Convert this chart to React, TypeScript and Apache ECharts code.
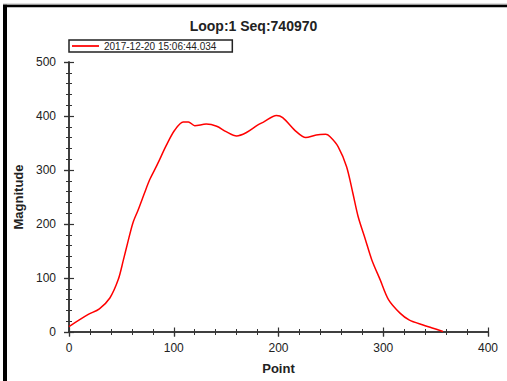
import React, { useEffect, useRef } from "react";
import * as echarts from "echarts";

const titleText = "Loop:1 Seq:740970";
const seriesName = "2017-12-20 15:06:44.034";
const xAxisName = "Point";
const yAxisName = "Magnitude";
const xTicks = [0, 100, 200, 300, 400];
const yTicks = [0, 100, 200, 300, 400, 500];

const pointX = [0, 18, 29, 39, 47, 52, 56, 61, 66, 72, 77, 84, 93, 101, 109, 114, 120, 131, 141, 150, 160, 169, 180, 186, 198, 204, 217, 226, 236, 245, 249, 257, 265, 271, 276, 283, 289, 297, 305, 316, 325, 338, 346, 357];
const magnitude = [10, 32, 43, 63, 97, 134, 165, 202, 226, 257, 282, 309, 346, 374, 389, 389, 382, 385, 381, 371, 363, 369, 383, 389, 401, 397, 371, 360, 365, 366, 362, 343, 306, 257, 214, 171, 134, 97, 60, 35, 22, 13, 8, 1];

const FONT = "'Liberation Sans', Arial, sans-serif";
const AXIS_COLOR = "#333";
const TEXT_COLOR = "#222";

export default function App() {
  const ref = useRef<HTMLDivElement>(null);
  useEffect(() => {
    if (!ref.current) return;
    const chart = echarts.init(ref.current, undefined, { renderer: "svg" });
    const data = pointX.map((x, i) => [x, magnitude[i]]);
    const xMin = xTicks[0], xMax = xTicks[xTicks.length - 1], xInt = xTicks[1] - xTicks[0];
    const yMin = yTicks[0], yMax = yTicks[yTicks.length - 1], yInt = yTicks[1] - yTicks[0];
    const line = { show: true, lineStyle: { color: AXIS_COLOR, width: 1.5 } };
    const tick = (inside: boolean, len: number) => ({ show: true, inside, length: len, lineStyle: { color: AXIS_COLOR, width: 1.2 } });
    const minor = (len: number) => ({ show: true, splitNumber: 5, length: len, lineStyle: { color: AXIS_COLOR, width: 1 } });
    const baseX = { type: "value", min: xMin, max: xMax, interval: xInt, splitLine: { show: false } };
    const baseY = { type: "value", min: yMin, max: yMax, interval: yInt, splitLine: { show: false } };
    chart.setOption({
      animation: false,
      backgroundColor: "#fff",
      textStyle: { fontFamily: FONT },
      title: {
        text: titleText,
        left: "center",
        top: 14,
        textStyle: { fontFamily: FONT, fontSize: 14, fontWeight: "bold", color: TEXT_COLOR },
      },
      legend: {
        left: 69,
        top: 40,
        orient: "horizontal",
        padding: [1, 16, 1, 3],
        borderColor: "#222",
        borderWidth: 1.5,
        itemWidth: 27,
        itemHeight: 2,
        itemGap: 5,
        icon: "rect",
        textStyle: { fontFamily: FONT, fontSize: 10, lineHeight: 10, color: TEXT_COLOR, padding: [0, 0, 0, 0] },
        data: [seriesName],
      },
      grid: { left: 69, right: 19, top: 62, bottom: 49, outerBoundsMode: "none", containLabel: false },
      xAxis: [
        {
          ...baseX, position: "bottom",
          axisLine: line, axisTick: tick(true, 4.5),
          minorTick: { ...minor(3) },
          axisLabel: { margin: 10, fontSize: 12, color: TEXT_COLOR, fontFamily: FONT },
          name: xAxisName, nameLocation: "middle", nameGap: 30,
          nameTextStyle: { fontFamily: FONT, fontSize: 13, fontWeight: "bold", color: TEXT_COLOR },
        },
        {
          ...baseX, position: "bottom",
          axisLine: { show: false }, axisTick: tick(false, 4.5), minorTick: minor(3),
          axisLabel: { show: false },
        },
        {
          ...baseX, position: "top",
          axisLine: line, axisTick: tick(true, 4.5), minorTick: minor(2.7),
          axisLabel: { show: false },
        },
      ],
      yAxis: [
        {
          ...baseY, position: "left",
          axisLine: line, axisTick: tick(true, 5), minorTick: minor(3),
          axisLabel: { margin: 13, fontSize: 12, color: TEXT_COLOR, fontFamily: FONT },
          name: yAxisName, nameLocation: "middle", nameGap: 42, nameRotate: 90,
          nameTextStyle: { fontFamily: FONT, fontSize: 13, fontWeight: "bold", color: TEXT_COLOR },
        },
        {
          ...baseY, position: "left",
          axisLine: { show: false }, axisTick: tick(false, 5), minorTick: minor(3),
          axisLabel: { show: false },
        },
        {
          ...baseY, position: "right",
          axisLine: line, axisTick: tick(true, 5), minorTick: minor(3),
          axisLabel: { show: false },
        },
      ],
      series: [
        {
          name: seriesName,
          type: "line",
          xAxisIndex: 0,
          yAxisIndex: 0,
          data,
          smooth: 0.3,
          showSymbol: false,
          symbol: "none",
          lineStyle: { color: "#ff0000", width: 1.5 },
          itemStyle: { color: "#ff2020" },
        },
      ],
      graphic: [
        { type: "rect", shape: { x: 3, y: 3.5, width: 504, height: 1.2 }, style: { fill: "#bdbdbd" }, silent: true },
        { type: "rect", shape: { x: 3, y: 4.7, width: 504, height: 2.6 }, style: { fill: "#000" }, silent: true },
        { type: "rect", shape: { x: 3, y: 4.7, width: 4, height: 377 }, style: { fill: "#000" }, silent: true },
      ],
    });
    return () => chart.dispose();
  }, []);
  return <div ref={ref} style={{ position: "absolute", left: 0, top: 0, width: 507, height: 381 }} />;
}
